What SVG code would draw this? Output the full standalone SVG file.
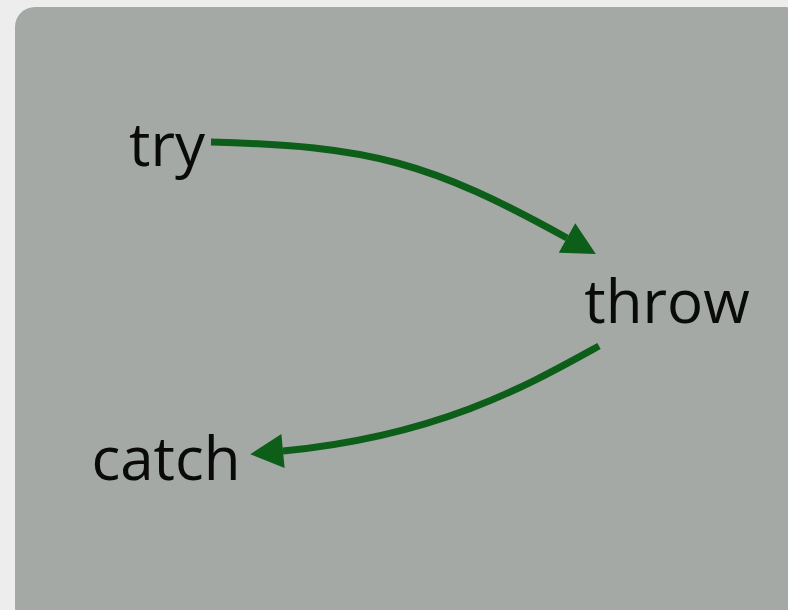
<svg xmlns="http://www.w3.org/2000/svg" width="788" height="610" viewBox="0 0 788 610">
  <defs>
    <marker id="arrow" markerUnits="userSpaceOnUse" markerWidth="34" markerHeight="34" refX="0" refY="17" orient="auto" overflow="visible">
      <path d="M0,0 L33,17 L0,34 Z" fill="#0c5e19"/>
    </marker>
  </defs>
  <style>
    .label { font-family: "Open Sans", "DejaVu Sans", sans-serif; font-size: 60px; fill: #0a0a0a; text-anchor: middle; }
    .edge { fill: none; stroke: #0c5e19; stroke-width: 7; marker-end: url(#arrow); }
  </style>
  <rect x="0" y="0" width="788" height="610" fill="#ededed"/>
  <rect x="15" y="7" width="790" height="620" rx="20" ry="20" fill="#a4a9a6"/>
  <g id="connectors">
    <path class="edge" d="M211,142 C370,146 430,162 567,238"/>
    <path class="edge" d="M599,346 C530,384 440,436 283,451"/>
  </g>
  <g id="node-try"><text class="label" x="167" y="166">try</text></g>
  <g id="node-throw"><text class="label" x="667" y="323">throw</text></g>
  <g id="node-catch"><text class="label" x="166" y="480">catch</text></g>
</svg>
